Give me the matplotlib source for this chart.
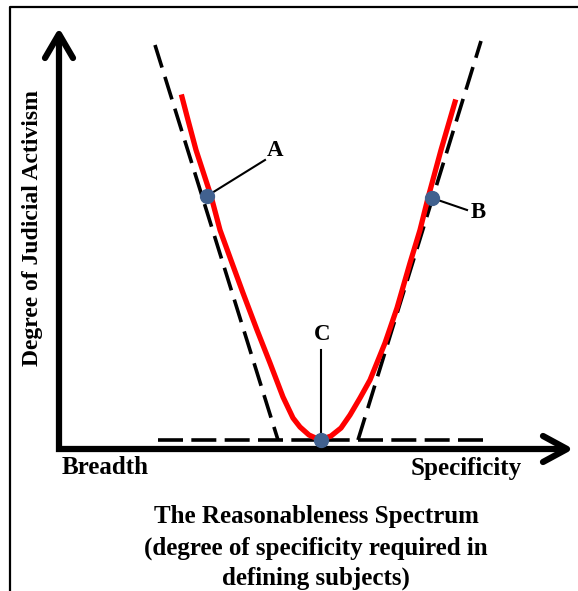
import matplotlib.pyplot as plt

plt.rcParams['font.family'] = ['Liberation Serif', 'DejaVu Serif']
plt.rcParams['lines.scale_dashes'] = False

# red curve (pixel coords, y down)
curve_x = [182, 188, 196, 211, 220, 232, 243, 257, 270, 283, 293, 300, 309, 320,
           331, 341, 350, 360, 370, 385, 397, 410, 420, 428, 441, 455]
curve_y = [97, 120, 150, 196, 230, 263, 293, 330, 363, 397, 418, 427, 435, 440,
           436, 428, 415, 398, 380, 343, 308, 263, 230, 198, 150, 102]

# dashed tangent lines
left_tan_x = [155, 278]
left_tan_y = [45, 440]
right_tan_x = [358, 481]
right_tan_y = [440, 41]
base_tan_x = [158, 487]
base_tan_y = [440, 440]

# marked points and their labels
pt_names = ['A', 'B', 'C']
pt_x = [207, 432, 321]
pt_y = [196, 198, 440]
lead_x = [265, 467, 321]
lead_y = [160, 210, 350]
lab_x = [275, 478, 322]
lab_y = [150, 212, 335]

fig = plt.figure(figsize=(5.78, 5.91), dpi=100)
ax = fig.add_axes([0, 0, 1, 1])
ax.set_xlim(0, 578)
ax.set_ylim(591, 0)
ax.axis('off')

# frame
ax.plot([10, 10, 578], [591, 7, 7], color='black', lw=1.6)

# axes with arrows
ax.plot([59, 59, 564], [36, 449, 449], color='black', lw=4.5,
        solid_joinstyle='miter', solid_capstyle='butt')
ax.plot([45, 59, 73], [58, 34, 58], color='black', lw=4.5,
        solid_joinstyle='round', solid_capstyle='round')
ax.plot([543, 567, 543], [436, 449, 462], color='black', lw=4.5,
        solid_joinstyle='round', solid_capstyle='round')

# dashed lines
for xs, ys in [(left_tan_x, left_tan_y), (right_tan_x, right_tan_y)]:
    ax.plot(xs, ys, color='black', lw=2.6, dashes=(17, 7), solid_capstyle='butt')
ax.plot(base_tan_x, base_tan_y, color='black', lw=2.6, dashes=(18, 6))

# red curve
ax.plot(curve_x, curve_y, color='#ff0000', lw=3.8, solid_joinstyle='round')

# leaders, dots, labels
for i in range(3):
    ax.plot([pt_x[i], lead_x[i]], [pt_y[i], lead_y[i]], color='black', lw=1.5)
for i in range(3):
    ax.plot(pt_x[i], pt_y[i], 'o', color='#41618f', ms=10, zorder=5)
    ax.text(lab_x[i], lab_y[i], pt_names[i], fontsize=16.5, fontweight='bold',
            ha='center', va='center')

ax.text(33, 228, 'Degree of Judicial Activism', fontsize=17, fontweight='bold',
        rotation=90, ha='center', va='center')
ax.text(105, 468, 'Breadth', fontsize=18, fontweight='bold',
        ha='center', va='center')
ax.text(466, 468, 'Specificity', fontsize=18, fontweight='bold',
        ha='center', va='center')

title_lines = ['The Reasonableness Spectrum',
               '(degree of specificity required in',
               'defining subjects)']
title_y = [517, 548, 578]
for t, y in zip(title_lines, title_y):
    ax.text(316, y, t, fontsize=18, fontweight='bold', ha='center', va='center')

fig.savefig('out.png', dpi=100)
